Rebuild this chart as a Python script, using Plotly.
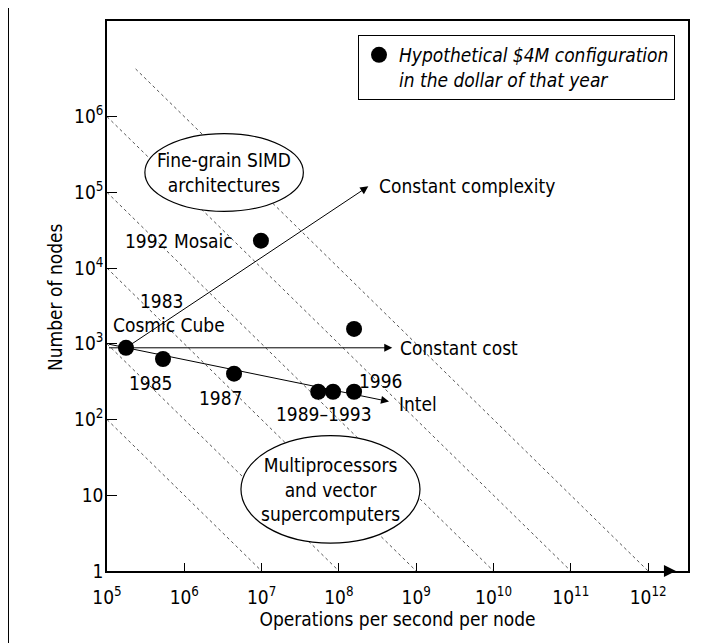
import plotly.graph_objects as go
import numpy as np

# ---------------- data ----------------
# Hypothetical $4M configurations (ops/s per node, number of nodes)
point_names = ["1983 Cosmic Cube", "1985", "1987", "1989", "1991", "1993", "1996", "1992 Mosaic"]
ops_per_node = [1.76e5, 5.3e5, 4.4e6, 5.4e7, 8.4e7, 1.57e8, 1.57e8, 9.8e6]
num_nodes = [886, 630, 403, 233, 233, 233, 1575, 2.3e4]

# iso-performance lines (total ops/s = ops per node x nodes)
iso_products = [1e7, 1e8, 1e9, 1e10, 1e11, 1e12]
iso_top_nodes = 10 ** 6.63

# trend arrows: (label, start ops, start nodes, end ops, end nodes)
trend_labels = ["Constant complexity", "Constant cost", "Intel"]
trend_start_ops = [1.76e5, 1e5, 1e5]
trend_start_nodes = [886, 886, 1000]
trend_end_ops = [2.4e8, 4.9e8, 4.45e8]
trend_end_nodes = [1.2e5, 886, 173]

x_tick_vals = [1e5, 1e6, 1e7, 1e8, 1e9, 1e10, 1e11, 1e12]
x_tick_text = ["10<sup>%d</sup>" % e for e in range(5, 13)]
y_tick_vals = [1, 10, 1e2, 1e3, 1e4, 1e5, 1e6]
y_tick_text = ["1", "10"] + ["10<sup>%d</sup>" % e for e in range(2, 7)]

legend_text = "Hypothetical $4M configuration<br>in the dollar of that year"
x_title = "Operations per second per node"
y_title = "Number of nodes"

# ---------------- style ----------------
F = "DejaVu Sans Condensed, Liberation Sans Narrow, Roboto, sans-serif"
FS = 19
lg = np.log10

fig = go.Figure()

# iso lines
for p in iso_products:
    x0 = max(1e5, p / iso_top_nodes)
    fig.add_trace(go.Scatter(
        x=[x0, p], y=[p / x0, 1], mode="lines",
        line=dict(color="#555", width=1, dash="dot"),
        showlegend=False, hoverinfo="skip"))

# points
fig.add_trace(go.Scatter(
    x=ops_per_node, y=num_nodes, mode="markers",
    marker=dict(size=16, color="black"),
    name=legend_text, text=point_names, showlegend=True))

annotations = []
# trend arrows
for lab, xs, ys, xe, ye in zip(trend_labels, trend_start_ops, trend_start_nodes,
                               trend_end_ops, trend_end_nodes):
    annotations.append(dict(
        x=lg(xe), y=lg(ye), ax=lg(xs), ay=lg(ys), axref="x", ayref="y",
        xref="x", yref="y", text=" ", font=dict(family=F, size=2),
        showarrow=True, arrowhead=2, arrowsize=1.6, arrowwidth=1,
        arrowcolor="black", standoff=0, startstandoff=0))

label_shift = {"Constant complexity": (9, 0), "Constant cost": (6, 0), "Intel": (8, -2)}
for lab, xe, ye in zip(trend_labels, trend_end_ops, trend_end_nodes):
    dx, dy = label_shift[lab]
    annotations.append(dict(
        x=lg(xe), y=lg(ye), xref="x", yref="y", text=lab, showarrow=False,
        xanchor="left", yanchor="middle", xshift=dx, yshift=dy,
        font=dict(family=F, size=FS, color="black")))

# point labels: (text, index of point, xshift, yshift, xanchor)
point_label_specs = [
    ("1983", 0, 36, 47, "center"),
    ("Cosmic Cube", 0, 43, 23, "center"),
    ("1985", 1, -12, -24, "center"),
    ("1987", 2, -13, -24, "center"),
    ("1989–1993", 4, -9, -22, "center"),
    ("1996", 6, 27, -52, "center"),
    ("1992 Mosaic", 7, -26, 0, "right"),
]
for txt, i, dx, dy, xa in point_label_specs:
    annotations.append(dict(
        x=lg(ops_per_node[i]), y=lg(num_nodes[i]), xref="x", yref="y",
        text=txt, showarrow=False, xanchor=xa, yanchor="middle",
        xshift=dx, yshift=dy, font=dict(family=F, size=FS, color="black")))

# region ellipses
ellipses = [
    ("Fine-grain SIMD<br>architectures", 5.49, 7.54, 4.75, 5.776),
    ("Multiprocessors<br>and vector<br>supercomputers", 6.733, 9.049, 0.368, 1.789),
]
shapes = []
for txt, lx0, lx1, ly0, ly1 in ellipses:
    shapes.append(dict(type="circle", xref="x", yref="y",
                       x0=10 ** lx0, x1=10 ** lx1, y0=10 ** ly0, y1=10 ** ly1,
                       line=dict(color="black", width=1.2), fillcolor="white",
                       layer="above"))
    annotations.append(dict(
        x=(lx0 + lx1) / 2, y=(ly0 + ly1) / 2, xref="x", yref="y", text=txt,
        showarrow=False, font=dict(family=F, size=FS, color="black")))

# axis arrowheads
annotations.append(dict(x=12.36, y=0, ax=12.2, ay=0, xref="x", yref="y",
                        axref="x", ayref="y", text=" ", font=dict(family=F, size=2),
                        showarrow=True, arrowhead=2, arrowsize=1.6, arrowwidth=1.5,
                        arrowcolor="black", standoff=0, startstandoff=0))
annotations.append(dict(x=0, y=7.15, ax=0, ay=7.0, xref="x", yref="y",
                        axref="x", ayref="y", text=" ", font=dict(family=F, size=2),
                        showarrow=True, arrowhead=2, arrowsize=1.6, arrowwidth=1.5,
                        arrowcolor="black", standoff=0, startstandoff=0))

# y-axis title (placed as rotated text beside the tick labels)
annotations.append(dict(x=-0.0895, y=0.498, xref="paper", yref="paper",
                        text=y_title, textangle=-90, showarrow=False,
                        xanchor="center", yanchor="middle",
                        font=dict(family=F, size=FS, color="black")))

# page border line on the left
shapes.append(dict(type="line", xref="paper", yref="paper",
                   x0=-0.1704, x1=-0.1704, y0=-0.14, y1=1.04,
                   line=dict(color="black", width=2)))

axis_common = dict(
    type="log", showline=True, linecolor="black", linewidth=1.5, mirror=True,
    ticks="inside", tickcolor="black", tickwidth=1, showgrid=False,
    zeroline=False, tickfont=dict(family=F, size=FS, color="black"),
)

# the page body has an 8px margin; size the figure so the page is 719x643
fig.update_layout(
    width=711, height=635,
    margin=dict(l=99, r=31, t=11, b=72),
    paper_bgcolor="white", plot_bgcolor="white",
    font=dict(family=F, size=FS, color="black"),
    xaxis=dict(axis_common, range=[5, 12.516], ticklen=8,
               tickvals=x_tick_vals, ticktext=x_tick_text,
               ticklabelstandoff=8,
               title=dict(text=x_title, font=dict(family=F, size=FS), standoff=4)),
    yaxis=dict(axis_common, range=[0, 7.263], ticklen=10,
               tickvals=y_tick_vals, ticktext=y_tick_text,
               ticklabelstandoff=-2),
    legend=dict(x=(358 - 107) / 581, y=(571 - 33) / 552, xanchor="left",
                yanchor="top", bordercolor="black", borderwidth=1,
                bgcolor="white", valign="top",
                font=dict(family=F, size=FS, style="italic")),
    shapes=shapes, annotations=annotations,
)

fig.write_html("out.html")
